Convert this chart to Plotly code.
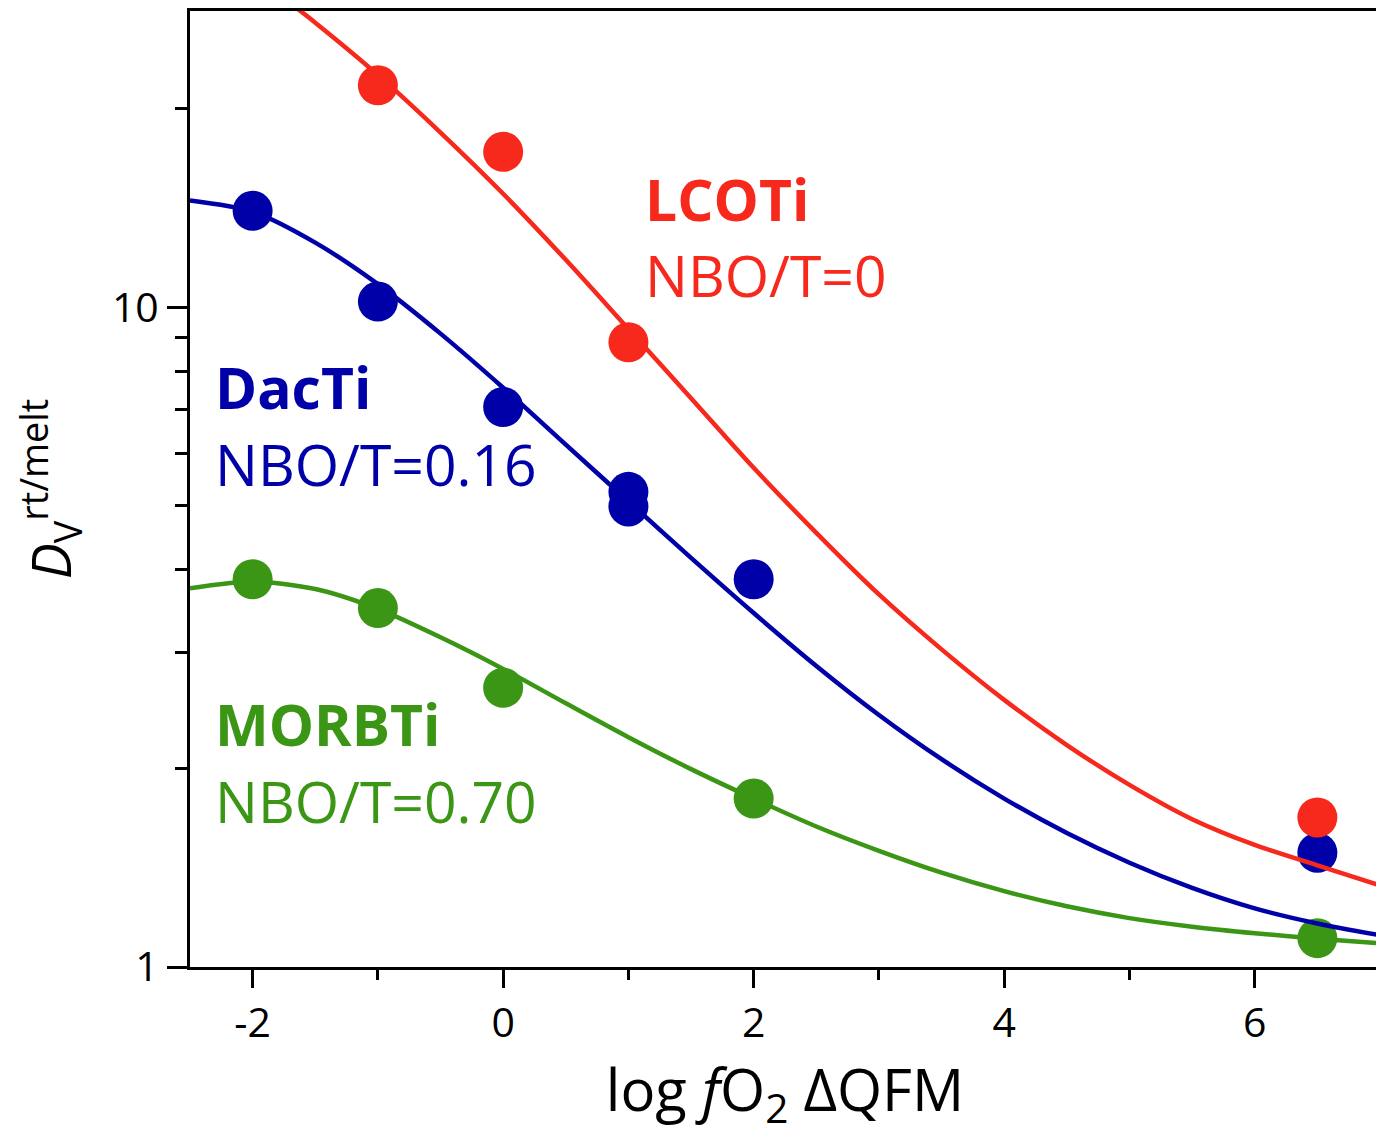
import plotly.graph_objects as go

# Measured data points (log fO2 ΔQFM, D_V rt/melt)
lco_x = [-1, 0, 1, 6.5]
lco_y = [21.7, 17.2, 8.85, 1.685]
dac_x = [-2, -1, 0, 1, 1, 2, 6.5]
dac_y = [14.0, 10.2, 7.06, 5.25, 4.99, 3.87, 1.49]
morb_x = [-2, -1, 0, 2, 6.5]
morb_y = [3.87, 3.50, 2.65, 1.80, 1.106]

# Fitted curves
lco_fit_x = [-1.8, -1.5, -1.0, -0.5, 0.0, 0.5, 1.0, 1.5, 2.0, 2.5, 3.0, 3.5, 4.0, 4.5, 5.0, 5.5, 6.0, 6.5, 7.0]
lco_fit_y = [29.9, 27.0, 22.5, 18.4, 14.86, 11.8, 9.27, 7.28, 5.71, 4.55, 3.67, 3.03, 2.54, 2.17, 1.888, 1.675, 1.531, 1.426, 1.33]
dac_fit_x = [-2.5, -2.0, -1.5, -1.0, -0.5, 0.0, 0.5, 1.0, 1.5, 2.0, 2.5, 3.0, 3.5, 4.0, 4.5, 5.0, 5.5, 6.0, 6.5, 7.0]
dac_fit_y = [14.52, 13.96, 12.53, 10.84, 9.12, 7.55, 6.19, 5.08, 4.17, 3.44, 2.86, 2.41, 2.065, 1.80, 1.596, 1.439, 1.318, 1.227, 1.164, 1.117]
morb_fit_x = [-2.5, -2.0, -1.5, -1.0, -0.5, 0.0, 0.5, 1.0, 1.5, 2.0, 2.5, 3.0, 3.5, 4.0, 4.5, 5.0, 5.5, 6.0, 6.5, 7.0]
morb_fit_y = [3.75, 3.84, 3.74, 3.49, 3.16, 2.83, 2.51, 2.23, 1.995, 1.80, 1.633, 1.50, 1.39, 1.303, 1.236, 1.186, 1.151, 1.125, 1.104, 1.086]

x_tick_vals = [-2, 0, 2, 4, 6]
x_tick_text = ["-2", "0", "2", "4", "6"]
x_minor_vals = [-1, 1, 3, 5, 7]
y_tick_vals = [1, 10]
y_tick_text = ["1", "10"]
y_minor_vals = [2, 3, 4, 5, 6, 7, 8, 9, 20]

RED = "#F7281C"
BLUE = "#0000A8"
GREEN = "#3A9614"
FONT = "Open Sans"

fig = go.Figure()
series = [
    (morb_fit_x, morb_fit_y, morb_x, morb_y, GREEN),
    (dac_fit_x, dac_fit_y, dac_x, dac_y, BLUE),
    (lco_fit_x, lco_fit_y, lco_x, lco_y, RED),
]
for fx, fy, px, py, c in series:
    fig.add_trace(go.Scatter(x=fx, y=fy, mode="lines", line=dict(color=c, width=4.5, shape="spline", smoothing=0.8),
                             showlegend=False, hoverinfo="skip"))
    fig.add_trace(go.Scatter(x=px, y=py, mode="markers", marker=dict(color=c, size=40, line=dict(width=0)),
                             showlegend=False, cliponaxis=False))

annots = [
    ("<b>LCOTi</b>", 0.3807, 0.803, RED),
    ("NBO/T=0", 0.3807, 0.7237, RED),
    ("<b>DacTi</b>", 0.0193, 0.607, BLUE),
    ("NBO/T=0.16", 0.0193, 0.5266, BLUE),
    ("<b>MORBTi</b>", 0.0193, 0.2544, GREEN),
    ("NBO/T=0.70", 0.0193, 0.1741, GREEN),
]
for t, x, y, c in annots:
    fig.add_annotation(text=t, x=x, y=y, xref="paper", yref="paper", xanchor="left", yanchor="middle",
                       showarrow=False, font=dict(family=FONT, size=57, color=c))

fig.update_layout(
    width=1376, height=1131,
    margin=dict(l=182, r=4, t=0, b=172),
    paper_bgcolor="white", plot_bgcolor="white",
    font=dict(family=FONT, color="black"),
)
fig.update_xaxes(
    range=[-2.5, 7], showgrid=False, zeroline=False,
    showline=True, linecolor="black", linewidth=3, mirror=True,
    ticks="outside", ticklen=18, tickwidth=3, tickcolor="black",
    tickvals=x_tick_vals, ticktext=x_tick_text, tickfont=dict(size=41, family=FONT),
    minor=dict(tickvals=x_minor_vals, ticks="outside", ticklen=10, tickwidth=3, tickcolor="black", showgrid=False),
    title=dict(text="log <i>f</i>O<sub>2</sub> ΔQFM", font=dict(size=58, family=FONT), standoff=14),
)
fig.update_yaxes(
    type="log", range=[0, 1.449], showgrid=False, zeroline=False,
    showline=True, linecolor="black", linewidth=3, mirror=True,
    ticks="outside", ticklen=20, tickwidth=3, tickcolor="black",
    tickvals=y_tick_vals, ticktext=y_tick_text, tickfont=dict(size=41, family=FONT),
    minor=dict(tickvals=y_minor_vals, ticks="outside", ticklen=12, tickwidth=3, tickcolor="black", showgrid=False),
    title=dict(text="<i>D</i><sub>V</sub><sup>rt/melt</sup>", font=dict(size=54, family=FONT), standoff=48),
)

fig.write_html("out.html")
